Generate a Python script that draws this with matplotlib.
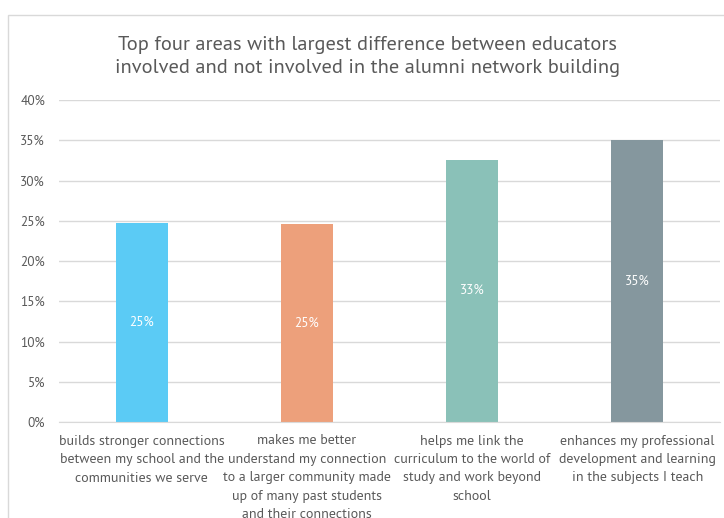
import matplotlib
matplotlib.use("Agg")
import matplotlib.pyplot as plt
from matplotlib.patches import Rectangle
from matplotlib.ticker import PercentFormatter, MultipleLocator

plt.rcParams["font.family"] = ["PT Sans", "DejaVu Sans"]

categories = [
    "builds stronger connections\nbetween my school and the\ncommunities we serve",
    "makes me better\nunderstand my connection\nto a larger community made\nup of many past students\nand their connections",
    "helps me link the\ncurriculum to the world of\nstudy and work beyond\nschool",
    "enhances my professional\ndevelopment and learning\nin the subjects I teach",
]
values = [0.247, 0.246, 0.326, 0.350]
colors = ["#5BCBF5", "#EDA07B", "#8AC1B8", "#85979E"]
title = ("Top four areas with largest difference between educators\n"
         "involved and not involved in the alumni network building")

W, H = 724, 518
fig = plt.figure(figsize=(W / 100, H / 100), dpi=100)
fig.patch.set_facecolor("white")

# outer chart frame (runs past the right and bottom edges)
fig.patches.append(Rectangle((8 / W, -0.1), 1.2, 1.1 - 15 / H,
                             transform=fig.transFigure, fill=False,
                             edgecolor="#D9D9D9", linewidth=1.0))

ax = fig.add_axes([59 / W, (H - 422) / H, (720 - 59) / W, (422 - 100) / H])
x = range(len(values))
bars = ax.bar(x, values, width=0.315, color=colors, zorder=2)
for b, v in zip(bars, values):
    ax.text(b.get_x() + b.get_width() / 2, v / 2, f"{v:.0%}",
            ha="center", va="center", color="white", fontsize=9.5, zorder=3)

ax.set_xlim(-0.5, len(values) - 0.5)
ax.set_ylim(0, 0.40)
ax.yaxis.set_major_locator(MultipleLocator(0.05))
ax.yaxis.set_major_formatter(PercentFormatter(1.0, decimals=0))
ax.grid(axis="y", color="#D9D9D9", linewidth=1.0, zorder=0)
ax.set_axisbelow(True)
for s in ["top", "right", "left"]:
    ax.spines[s].set_visible(False)
ax.spines["bottom"].set_color("#D9D9D9")
ax.tick_params(axis="y", length=0, pad=10, labelsize=9.5, labelcolor="#595959")
ax.tick_params(axis="x", length=0, pad=9, labelsize=10, labelcolor="#595959")
ax.set_xticks(list(x))
ax.set_xticklabels(categories, linespacing=1.55, va="top")

fig.text(368 / W, 1 - 56.5 / H, title,
         ha="center", va="center", fontsize=14.7, color="#595959", linespacing=1.42)

fig.savefig("out.png", dpi=100, facecolor="white")
